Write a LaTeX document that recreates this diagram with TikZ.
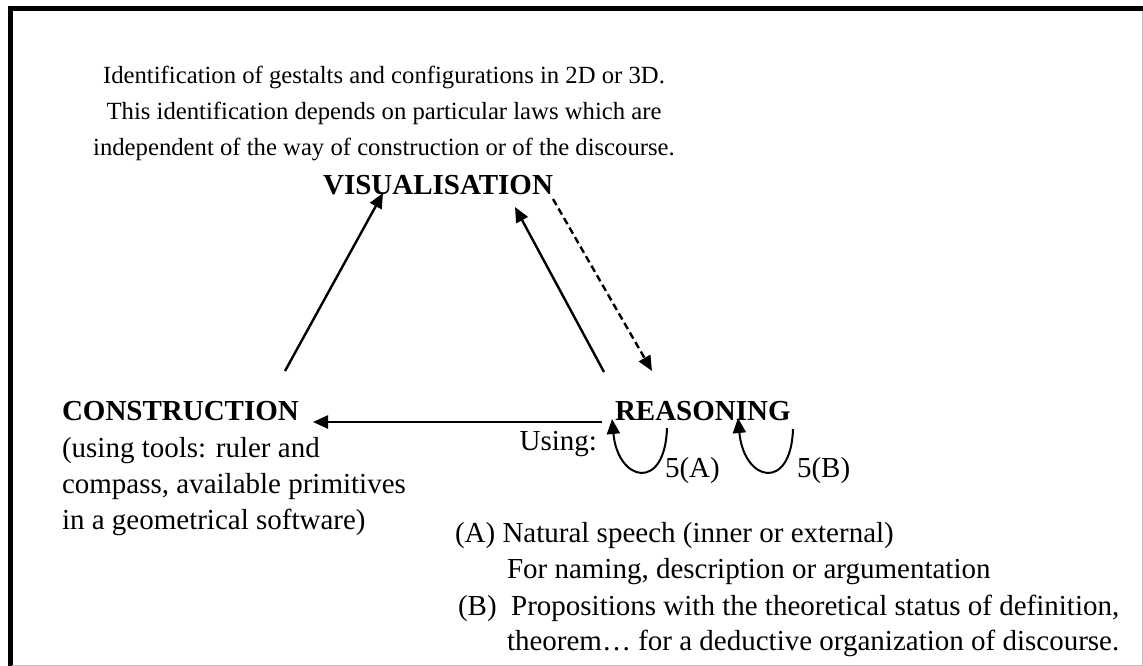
\documentclass[tikz,border=0pt]{standalone}
\usepackage{fontspec}
\setmainfont{Liberation Serif}
\usetikzlibrary{arrows.meta}
\begin{document}
\begin{tikzpicture}[x=1pt,y=-1pt,
  txt/.style={inner sep=0pt, outer sep=0pt, font=\fontsize{29}{36}\selectfont},
  note/.style={inner sep=0pt, outer sep=0pt, font=\fontsize{24.7}{36}\selectfont},
  head/.style={txt, font=\fontsize{29}{36}\selectfont\bfseries},
  arr/.style={line width=2.4pt, -{Triangle[length=15pt,width=13pt]}},
  dasharr/.style={arr, dash pattern=on 7pt off 4pt}]
\useasboundingbox (0,0) rectangle (1143,666);
% frame
\fill[black] (8,6) rectangle (1143,11.5);
\fill[black] (8,6) rectangle (12.7,666);
\draw[black!25, line width=1pt] (1142,11) -- (1142,665.5) -- (12,665.5);

% description of visualisation
\node[note, anchor=base] (d1) at (384,84) {Identification of gestalts and configurations in 2D or 3D.};
\node[note, anchor=base] (d2) at (384,120) {This identification depends on particular laws which are};
\node[note, anchor=base] (d3) at (384,156) {independent of the way of construction or of the discourse.};

% the three poles
\node[head, anchor=base east] (vis) at (553,194) {VISUALISATION};
\node[head, anchor=base west] (con) at (62,420) {CONSTRUCTION};
\node[head, anchor=base west] (rea) at (615,420) {REASONING};

% construction details
\node[txt, anchor=base west] (c1t) at (62,457) {(using tools: ruler and};
\node[txt, anchor=base west] (c2t) at (62,493) {compass, available primitives};
\node[txt, anchor=base west] (c3t) at (62,529) {in a geometrical software)};

% reasoning details
\node[txt, anchor=base east] (use) at (597,450) {Using:};
\node[txt, anchor=base west] (la) at (665,477) {5(A)};
\node[txt, anchor=base west] (lb) at (797,477) {5(B)};
\node[txt, anchor=base west] (a1) at (455,542) {(A) Natural speech (inner or external)};
\node[txt, anchor=base west] (a2) at (507,578) {For naming, description or argumentation};
\node[txt, anchor=base west] (b1) at (458,615) {(B)\ \ Propositions with the theoretical status of definition,};
\node[txt, anchor=base west] (b2) at (507,650) {theorem\dots\ for a deductive organization of discourse.};

% connector end points
\coordinate (cv) at (285,371);
\coordinate (vc) at (383,193);
\coordinate (rv) at (604,372);
\coordinate (vr) at (515,207);
\coordinate (vd) at (553,199);
\coordinate (rd) at (652,371);
\coordinate (rc) at (602,422);
\coordinate (cr) at (313,422);
\coordinate (lA1) at (667,428);
\coordinate (lA2) at (612,419);
\coordinate (lB1) at (793,429);
\coordinate (lB2) at (738,418);

% connectors
\draw[arr] (cv) -- (vc);
\draw[arr] (rv) -- (vr);
\draw[dasharr] (vd) -- (rd);
\draw[arr] (rc) -- (cr);
\draw[arr, line width=2pt] (lA1) .. controls (665,492) and (618,482) .. (lA2);
\draw[arr, line width=2pt] (lB1) .. controls (791,492) and (744,482) .. (lB2);
\end{tikzpicture}
\end{document}
